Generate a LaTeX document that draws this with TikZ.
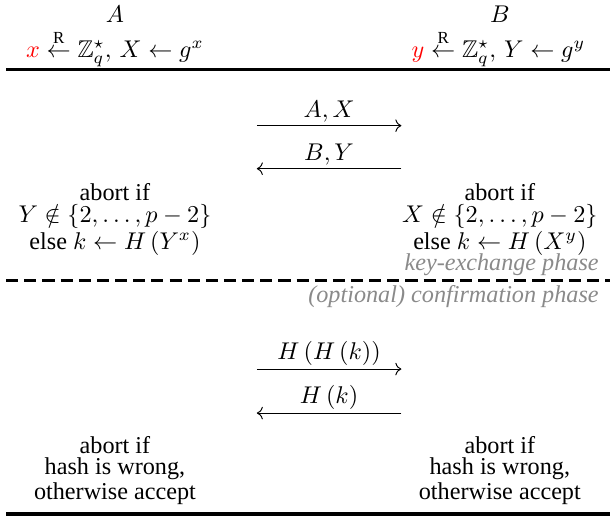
\documentclass[tikz,border=0pt]{standalone}
\usepackage{amsmath,amssymb}
\usepackage{fontspec}
\setmainfont{Liberation Serif}
\usetikzlibrary{arrows.meta,positioning}
\definecolor{dhInk}{HTML}{000000}
\definecolor{dhRed}{HTML}{FF0000}
\definecolor{dhGray}{HTML}{8A8A8A}
\tikzset{
  party/.style   ={inner sep=1pt,font=\fontsize{10}{9}\selectfont},
  compute/.style ={party,align=center},
  msg/.style     ={->,dhInk,line width=0.4pt},
  mlbl/.style    ={above=0.4pt,inner sep=1pt},
  rulebar/.style ={dhInk,line width=1.6pt},
  phaseline/.style={dhInk,line width=1.2pt,dash pattern=on 5pt off 2.5pt},
  plbl/.style    ={font=\itshape,text=dhGray,inner sep=0.5pt,anchor=east},
}

\begin{document}
\begin{tikzpicture}[x=1mm,y=1mm]
\useasboundingbox (0,0) rectangle (88.6,-75.1);

% parties and their secrets
\node[party] (A) at (16.7,-2.0) {$A$};
\node[party] (B) at (72.6,-2.0) {$B$};
\node[party] (initA) at (16.7,-7.05)
  {$\textcolor{dhRed}{x}\stackrel{\mathrm{R}}{\leftarrow}\mathbb{Z}_q^{\star},\,X\leftarrow g^{x}$};
\node[party] (initB) at (72.4,-7.05)
  {$\textcolor{dhRed}{y}\stackrel{\mathrm{R}}{\leftarrow}\mathbb{Z}_q^{\star},\,Y\leftarrow g^{y}$};

\coordinate (topL) at (0.9,-10.1);
\coordinate (topR) at (88.6,-10.1);
\draw[rulebar] (topL) -- (topR);

% key exchange
\coordinate (m1a) at (37.3,-18.25);
\coordinate (m1b) at (58.3,-18.25);
\draw[msg] (m1a) -- node[mlbl] (lAX) {$A,X$} (m1b);
\coordinate (m2a) at (37.3,-24.5);
\coordinate (m2b) at (58.3,-24.5);
\draw[msg] (m2b) -- node[mlbl] (lBY) {$B,Y$} (m2a);

\node[compute] (kA) at (16.7,-31.9)
  {abort if\\$Y\notin\{2,\ldots,p-2\}$\\else $k\leftarrow H\left(Y^{x}\right)$};
\node[compute] (kB) at (72.6,-31.9)
  {abort if\\$X\notin\{2,\ldots,p-2\}$\\else $k\leftarrow H\left(X^{y}\right)$};

% phase divider
\coordinate (divL) at (0.9,-40.7);
\coordinate (divR) at (88.6,-40.7);
\draw[phaseline] (divL) -- (divR);
\node[plbl] (pKey)  at (87.2,-38.4) {key-exchange phase};
\node[plbl] (pConf) at (87.2,-43.1) {(optional) confirmation phase};

% confirmation
\coordinate (m3a) at (37.3,-53.6);
\coordinate (m3b) at (58.3,-53.6);
\draw[msg] (m3a) -- node[mlbl] (lHH) {$H\left(H\left(k\right)\right)$} (m3b);
\coordinate (m4a) at (37.3,-60.0);
\coordinate (m4b) at (58.3,-60.0);
\draw[msg] (m4b) -- node[mlbl] (lH) {$H\left(k\right)$} (m4a);

\node[compute] (cA) at (16.7,-68.3) {abort if\\hash is wrong,\\otherwise accept};
\node[compute] (cB) at (72.6,-68.3) {abort if\\hash is wrong,\\otherwise accept};

\coordinate (botL) at (0.9,-74.6);
\coordinate (botR) at (88.6,-74.6);
\draw[rulebar] (botL) -- (botR);
\end{tikzpicture}
\end{document}
